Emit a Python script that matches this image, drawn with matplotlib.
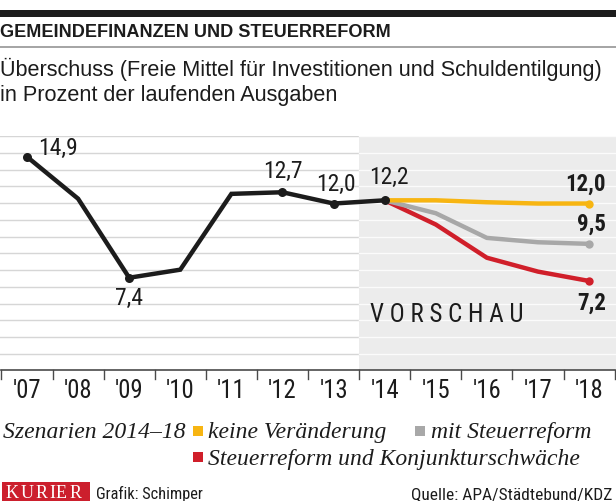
import numpy as np
import matplotlib
matplotlib.use('Agg')
import matplotlib.pyplot as plt
import matplotlib.patches as mpatch
import matplotlib.font_manager as fm

# data
years = ["'07", "'08", "'09", "'10", "'11", "'12", "'13",
         "'14", "'15", "'16", "'17", "'18"]
history = [14.9, 12.3, 7.4, 7.9, 12.6, 12.7, 12.0, 12.2]
keine = [12.2, 12.2, 12.08, 12.0, 12.0]
mit_reform = [12.2, 11.4, 9.87, 9.6, 9.5]
konjunktur = [12.2, 10.7, 8.64, 7.78, 7.2]

history_labels = {0: '14,9', 2: '7,4', 5: '12,7', 6: '12,0', 7: '12,2'}
end_labels = ['12,0', '9,5', '7,2']

BLACK = '#1c1c1c'
YELLOW = '#f7b512'
GREY = '#a8a8a8'
RED = '#d01f2a'

W, H = 616, 502

# pick a narrow sans if there is one
names = set(f.name for f in fm.fontManager.ttflist)
NARROW = 'DejaVu Sans'
for cand in ['Liberation Sans Narrow', 'Roboto Condensed', 'Open Sans Condensed']:
    if cand in names:
        NARROW = cand
        break
SANS = 'Liberation Sans' if 'Liberation Sans' in names else 'DejaVu Sans'
SERIF = 'Liberation Serif' if 'Liberation Serif' in names else 'DejaVu Serif'


def fx(x):
    return x / W


def fy(y):
    return 1 - y / H


fig = plt.figure(figsize=(W / 100, H / 100), dpi=100)

# header
fig.add_artist(mpatch.Rectangle((0, fy(18.3)), 1, (18.3 - 11) / H,
                                transform=fig.transFigure, fc=BLACK, ec='none'))
fig.text(fx(0), fy(37), 'GEMEINDEFINANZEN UND STEUERREFORM', family=SANS,
         weight='bold', fontsize=13.1, color=BLACK, va='baseline')
fig.add_artist(plt.Line2D([0, 1], [fy(48), fy(48)], transform=fig.transFigure,
                          color='#8c8c8c', lw=1.1))
fig.text(fx(0), fy(76), 'Überschuss (Freie Mittel für Investitionen und Schuldentilgung)',
         family=SANS, fontsize=15.6, color=BLACK, va='baseline')
fig.text(fx(0), fy(101), 'in Prozent der laufenden Ausgaben',
         family=SANS, fontsize=15.6, color=BLACK, va='baseline')

# plot area: 137px .. 371px
ax = fig.add_axes([0, fy(371), 1, (371 - 137) / H])
ZERO_PX, PX_PER_UNIT = 398.1, 16.13
ymin = (ZERO_PX - 371) / PX_PER_UNIT
ymax = (ZERO_PX - 137) / PX_PER_UNIT
ax.set_ylim(ymin, ymax)
ax.set_xlim(-0.528, 11.527)
ax.axis('off')

# forecast background
ax.axvspan(6.5, 11.527, color='#ececec', zorder=0, lw=0)

# grid lines, grey on white, white on the shaded part
step = 16.76 / PX_PER_UNIT
for k in range(14):
    gy = ymax - k * step
    ax.plot([-0.528, 6.5], [gy, gy], color='#d6d6d6', lw=1.0, zorder=1)
    ax.plot([6.5, 11.527], [gy, gy], color='#fbfbfb', lw=1.0, zorder=1)

# x axis with separators
ax.plot([-0.5, 11.5], [ymin, ymin], color='#4a4a4a', lw=1.2, zorder=3, clip_on=False)
for i in range(len(years) + 1):
    ax.plot([i - 0.5, i - 0.5], [0, -9 / 234], color='#4a4a4a', lw=1.0,
            transform=ax.get_xaxis_transform(), clip_on=False)
for i, lab in enumerate(years):
    ax.text(i, -27 / 234, lab, family=NARROW, fontsize=17.8, color=BLACK,
            ha='center', va='baseline', transform=ax.get_xaxis_transform())

xf = np.arange(7, 12)
ax.plot(xf, konjunktur, color=RED, lw=3.2, zorder=4, solid_capstyle='round')
ax.plot(xf, mit_reform, color=GREY, lw=3.2, zorder=5, solid_capstyle='round')
ax.plot(xf, keine, color=YELLOW, lw=3.2, zorder=6, solid_capstyle='round')
for vals, c in [(keine, YELLOW), (mit_reform, GREY), (konjunktur, RED)]:
    ax.plot(xf[-1], vals[-1], 'o', color=c, ms=6, zorder=7, mec='none')

xh = np.arange(len(history))
ax.plot(xh, history, color=BLACK, lw=3.2, zorder=8, solid_joinstyle='miter')
ax.plot([i for i in history_labels], [history[i] for i in history_labels], 'o',
        color=BLACK, ms=6.5, zorder=9, mec='none')

# value labels
offsets = {0: (11, 9.5, 'left'), 2: (0, -19.6, 'center'), 5: (0, 22, 'center'),
           6: (2, 20.5, 'center'), 7: (4, 24, 'center')}
for i, lab in history_labels.items():
    dx, dy, ha = offsets[i]
    ax.annotate(lab, (i, history[i]), xytext=(dx, dy), textcoords='offset pixels',
                family=NARROW, fontsize=17, color=BLACK, ha=ha, va='center', zorder=10)

end_offsets = [20, 21, -21.4]
for vals, lab, dy in zip([keine, mit_reform, konjunktur], end_labels, end_offsets):
    ax.annotate(lab, (11, vals[-1]), xytext=(17, dy), textcoords='offset pixels',
                family=NARROW, fontsize=16.5, weight='bold', color=BLACK,
                ha='right', va='center', zorder=10)

fig.text(fx(370), fy(321.7), 'V O R S C H A U', family=NARROW, fontsize=18,
         color=BLACK, va='baseline')

# legend
fig.text(fx(3), fy(438.3), 'Szenarien 2014–18', family=SERIF, style='italic',
         fontsize=17, color=BLACK, va='baseline')
legend_items = [(192.7, 426.7, YELLOW, 'keine Veränderung'),
                (415.3, 426.7, GREY, 'mit Steuerreform'),
                (192.7, 453.0, RED, 'Steuerreform und Konjunkturschwäche')]
for lx, ly, c, lab in legend_items:
    fig.add_artist(mpatch.Rectangle((fx(lx), fy(ly + 10)), 10 / W, 10 / H,
                                    transform=fig.transFigure, fc=c, ec='none'))
    fig.text(fx(lx + 15.6), fy(ly + 11.6), lab, family=SERIF, style='italic',
             fontsize=17, color=BLACK, va='baseline')

# footer: red logo box with spaced letters
fig.add_artist(mpatch.Rectangle((fx(1.7), 0), (90 - 1.7) / W, (502 - 483) / H,
                                transform=fig.transFigure, fc='#cc1f2d', ec='none'))
for letter, lx in zip('KURIER', [6, 20.7, 35.7, 49.3, 56, 69.3]):
    fig.text(fx(lx), fy(498.5), letter, family=SERIF, fontsize=13, color='white',
             va='baseline')
fig.text(fx(95.7), fy(499), 'Grafik: Schimper', family=NARROW, fontsize=11.8,
         color=BLACK, va='baseline')
fig.text(fx(612.7), fy(499), 'Quelle: APA/Städtebund/KDZ', family=NARROW,
         fontsize=12.5, color=BLACK, ha='right', va='baseline')

fig.savefig('out.png', dpi=100)
